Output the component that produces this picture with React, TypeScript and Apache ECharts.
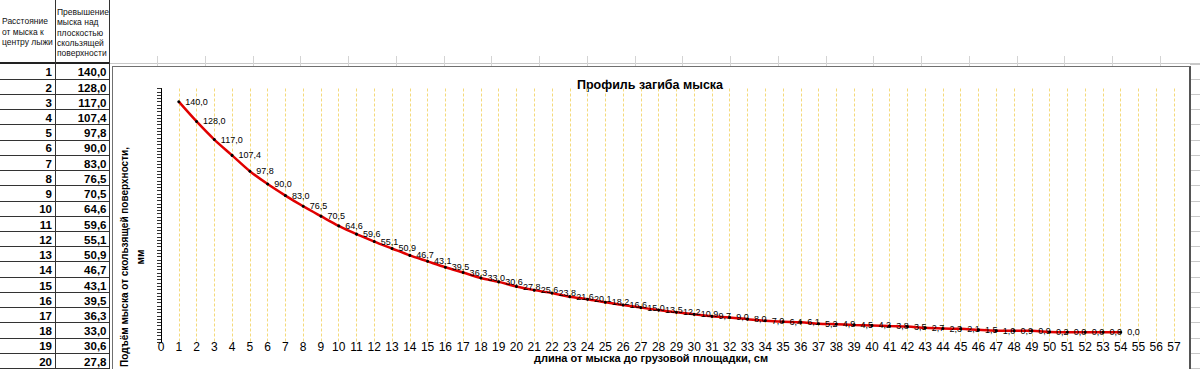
import React, { useEffect, useRef } from "react";
import * as echarts from "echarts";

// ---- data ----
const distances = [
  1, 2, 3, 4, 5, 6, 7, 8, 9, 10, 11, 12, 13, 14, 15, 16, 17, 18, 19, 20,
  21, 22, 23, 24, 25, 26, 27, 28, 29, 30, 31, 32, 33, 34, 35, 36, 37, 38, 39, 40,
  41, 42, 43, 44, 45, 46, 47, 48, 49, 50, 51, 52, 53, 54,
];
const heights = [
  140.0, 128.0, 117.0, 107.4, 97.8, 90.0, 83.0, 76.5, 70.5, 64.6,
  59.6, 55.1, 50.9, 46.7, 43.1, 39.5, 36.3, 33.0, 30.6, 27.8,
  25.6, 23.8, 21.6, 20.1, 18.2, 16.6, 15.0, 13.5, 12.2, 10.9,
  9.7, 9.0, 8.0, 7.0, 6.4, 6.1, 5.2, 4.9, 4.5, 4.2,
  3.8, 3.5, 2.7, 2.3, 2.1, 1.5, 1.0, 0.9, 0.9, 0.2,
  0.0, 0.0, 0.0, 0.0,
];
const visibleTableRows = 20;
const xAxisMin = 0;
const xAxisMax = 57;
const yAxisMin = -6;
const yAxisMax = 148;
const titleText = "Профиль загиба мыска";
const yAxisName = "Подъём мыска от скользящей поверхности,\nмм";
const xAxisName = "длина от мыска до грузовой площадки, см";
const headerA = ["Расстояние", "от мыска к", "центру лыжи"];
const headerB = ["Превышение", "мыска над", "плоскостью", "скользящей", "поверхности"];

const FONT = '"Liberation Sans", Arial, sans-serif';
const fmt = (v: number) => v.toFixed(1).replace(".", ",");

const ROW_TOP = 63.5;
const ROW_H = 15.23;

function Sheet() {
  const els: React.ReactNode[] = [];
  const aCenters = [21, 31.7, 42.2];
  headerA.forEach((t, i) =>
    els.push(
      <div key={"ha" + i} style={{ position: "absolute", left: 2, top: aCenters[i] - 6, height: 12, lineHeight: "12px", fontSize: 8.5, fontFamily: FONT, color: "#111", whiteSpace: "nowrap" }}>{t}</div>
    )
  );
  const bCenters = [12, 22.3, 32.6, 42.8, 53];
  headerB.forEach((t, i) =>
    els.push(
      <div key={"hb" + i} style={{ position: "absolute", left: 57, top: bCenters[i] - 6, height: 12, lineHeight: "12px", fontSize: 8.5, fontFamily: FONT, color: "#111", whiteSpace: "nowrap" }}>{t}</div>
    )
  );
  els.push(<div key="hline" style={{ position: "absolute", left: 0, top: 62, width: 110, height: 1.5, background: "#222" }} />);
  els.push(<div key="c1" style={{ position: "absolute", left: 54.5, top: 0, width: 1, height: 369, background: "#333" }} />);
  els.push(<div key="c2" style={{ position: "absolute", left: 108.5, top: 0, width: 1.5, height: 369, background: "#333" }} />);
  for (let i = 0; i < visibleTableRows; i++) {
    const c = 72.3 + ROW_H * i;
    const bottom = ROW_TOP + ROW_H * (i + 1);
    els.push(<div key={"rl" + i} style={{ position: "absolute", left: 0, top: bottom, width: 110, height: 1, background: "#333" }} />);
    els.push(
      <div key={"ra" + i} style={{ position: "absolute", left: 0, width: 52, top: c - 7, height: 14, lineHeight: "14px", textAlign: "right", fontSize: 11.5, fontWeight: "bold", fontFamily: FONT, color: "#000" }}>{distances[i]}</div>
    );
    els.push(
      <div key={"rb" + i} style={{ position: "absolute", left: 56, width: 50.5, top: c - 7, height: 14, lineHeight: "14px", textAlign: "right", fontSize: 11.5, fontWeight: "bold", fontFamily: FONT, color: "#000" }}>{fmt(heights[i])}</div>
    );
  }
  els.push(<div key="gtop" style={{ position: "absolute", left: 110, top: 63, width: 1090, height: 1, background: "#c8c8c8" }} />);
  for (let x = 157; x < 1200; x += 47.75) {
    els.push(<div key={"gv" + x} style={{ position: "absolute", left: x, top: 56, width: 1, height: 10, background: "#d4d4d4" }} />);
  }
  for (let i = 0; i <= visibleTableRows; i++) {
    const y = ROW_TOP + ROW_H * i;
    els.push(<div key={"gr" + i} style={{ position: "absolute", left: 1190, top: y, width: 10, height: 1, background: "#c8c8c8" }} />);
  }
  els.push(
    <div key="frame" style={{ position: "absolute", left: 112, top: 66, width: 1076, height: 320, borderLeft: "1px solid #707070", borderTop: "1px solid #707070", borderRight: "2px solid #555" }} />
  );
  return <>{els}</>;
}

export default function App() {
  const ref = useRef<HTMLDivElement>(null);
  useEffect(() => {
    if (!ref.current) return;
    const chart = echarts.init(ref.current, null, { renderer: "svg" });
    const data = distances.map((x, i) => [x, heights[i]]);
    chart.setOption({
      animation: false,
      grid: { left: 161, right: 26, top: 88.5, bottom: 26.8 },
      xAxis: {
        type: "value",
        min: xAxisMin,
        max: xAxisMax,
        interval: 1,
        axisLine: { show: false },
        axisTick: { show: false },
        axisLabel: { fontSize: 12, color: "#000", fontFamily: FONT, margin: -1, lineHeight: 12 },
        splitLine: { show: true, lineStyle: { color: "#f4da7c", width: 1, type: [3, 2] } },
      },
      yAxis: {
        type: "value",
        min: yAxisMin,
        max: yAxisMax,
        interval: 2,
        axisLabel: { show: false },
        splitLine: { show: false },
        axisLine: { show: true, lineStyle: { color: "#000", width: 1 } },
        axisTick: { show: true, length: 4, lineStyle: { color: "#333", width: 1 } },
      },
      graphic: [
        {
          type: "text",
          x: 650,
          y: 85,
          style: { text: titleText, align: "center", verticalAlign: "middle", fontSize: 12.5, fontWeight: "bold", fontFamily: FONT, fill: "#000" },
        },
        {
          type: "text",
          x: 651,
          y: 358,
          style: { text: xAxisName, align: "center", verticalAlign: "middle", fontSize: 11, fontWeight: "bold", fontFamily: FONT, fill: "#000" },
        },
        {
          type: "text",
          x: 132,
          y: 257,
          rotation: Math.PI / 2,
          style: { text: yAxisName, align: "center", verticalAlign: "middle", lineHeight: 16, fontSize: 10, fontWeight: "bold", fontFamily: FONT, fill: "#000" },
        },
      ],
      series: [
        {
          type: "line",
          data,
          smooth: 0.3,
          symbol: "circle",
          symbolSize: 3,
          itemStyle: { color: "#000" },
          lineStyle: { color: "#e00000", width: 2.5 },
          label: {
            show: true,
            position: "right",
            distance: 5,
            fontSize: 9,
            fontFamily: FONT,
            color: "#000",
            formatter: (p: any) => fmt(p.value[1]),
          },
          z: 3,
        },
      ],
    });
    return () => chart.dispose();
  }, []);
  return (
    <div style={{ position: "absolute", left: 0, top: 0, width: 1200, height: 369, overflow: "hidden", background: "#fff" }}>
      <Sheet />
      <div ref={ref} style={{ position: "absolute", left: 0, top: 0, width: 1200, height: 369 }} />
    </div>
  );
}
